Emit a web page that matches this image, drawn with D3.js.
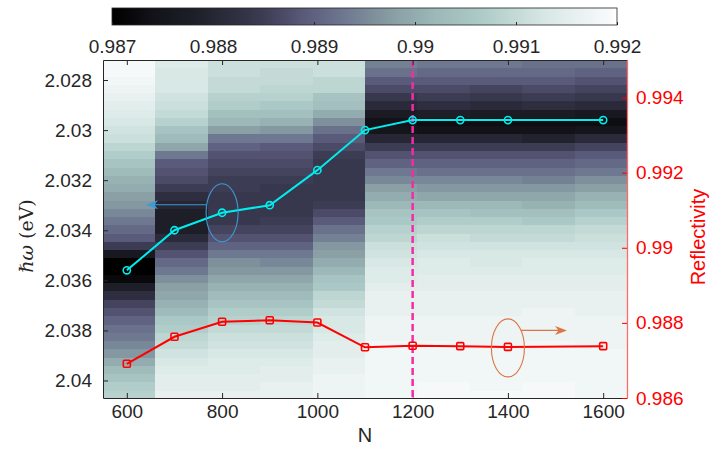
<!DOCTYPE html>
<html>
<head>
<meta charset="utf-8">
<script src="https://cdn.jsdelivr.net/npm/d3@7"></script>
<style>
body { margin: 0; background: #fff; }
text { font-family: "Liberation Sans", Arial, sans-serif; }
</style>
</head>
<body>
<div id="chart"></div>
<script>
// N values (columns of the map and points of both lines)
var nVals = [600, 700, 800, 900, 1000, 1100, 1200, 1300, 1400, 1600];
// resonance energy (left axis, cyan)
var resE = [2.0356, 2.0340, 2.0333, 2.0330, 2.0316, 2.0300, 2.0296, 2.0296, 2.0296, 2.0296];
// reflectivity at resonance (right axis, red)
var refl = [0.98691, 0.98763, 0.98803, 0.98807, 0.98801, 0.98735, 0.98739, 0.98738, 0.98736, 0.98738];

// energy grid of the map rows, top to bottom
var eStart = 2.02737, eStep = 0.00033;

// reflectivity map, one array per N, rows top (low energy) to bottom
var heat600 = [0.9919,0.9919,0.9918,0.9917,0.9916,0.9915,0.9914,0.9913,0.9912,0.9911,0.9909,0.9907,0.9905,0.9903,0.9901,0.9900,0.9898,0.9897,0.9895,0.9893,0.9891,0.9889,0.9885,0.9876,0.9870,0.9870,0.9872,0.9878,0.9882,0.9886,0.9888,0.9890,0.9892,0.9893,0.9895,0.9897,0.9900,0.9903,0.9905,0.9907,0.9908];
var heat700 = [0.9914,0.9913,0.9913,0.9913,0.9912,0.9911,0.9910,0.9908,0.9905,0.9903,0.9899,0.9893,0.9889,0.9888,0.9887,0.9885,0.9882,0.9880,0.9878,0.9878,0.9878,0.9881,0.9885,0.9888,0.9891,0.9893,0.9896,0.9898,0.9899,0.9901,0.9903,0.9906,0.9907,0.9909,0.9910,0.9912,0.9913,0.9914,0.9915,0.9915,0.9916];
var heat800 = [0.9911,0.9911,0.9910,0.9910,0.9908,0.9907,0.9904,0.9902,0.9898,0.9893,0.9890,0.9888,0.9887,0.9886,0.9885,0.9885,0.9884,0.9884,0.9884,0.9884,0.9886,0.9888,0.9890,0.9893,0.9896,0.9897,0.9899,0.9901,0.9903,0.9905,0.9907,0.9908,0.9910,0.9911,0.9912,0.9913,0.9914,0.9914,0.9915,0.9915,0.9916];
var heat900 = [0.9911,0.9910,0.9910,0.9909,0.9908,0.9906,0.9904,0.9901,0.9897,0.9893,0.9889,0.9888,0.9887,0.9886,0.9885,0.9884,0.9884,0.9884,0.9884,0.9885,0.9886,0.9888,0.9890,0.9893,0.9895,0.9897,0.9899,0.9901,0.9903,0.9905,0.9907,0.9909,0.9910,0.9911,0.9912,0.9913,0.9914,0.9915,0.9915,0.9916,0.9916];
var heat1000 = [0.9911,0.9911,0.9909,0.9909,0.9905,0.9904,0.9900,0.9896,0.9892,0.9889,0.9887,0.9885,0.9884,0.9884,0.9884,0.9884,0.9884,0.9885,0.9887,0.9889,0.9892,0.9894,0.9897,0.9898,0.9900,0.9902,0.9905,0.9906,0.9909,0.9910,0.9912,0.9913,0.9913,0.9914,0.9915,0.9915,0.9916,0.9916,0.9917,0.9917,0.9917];
var heat1100 = [0.9894,0.9892,0.9889,0.9887,0.9884,0.9881,0.9877,0.9874,0.9875,0.9880,0.9885,0.9888,0.9890,0.9893,0.9895,0.9898,0.9900,0.9902,0.9905,0.9906,0.9908,0.9909,0.9911,0.9912,0.9913,0.9914,0.9914,0.9915,0.9916,0.9916,0.9916,0.9917,0.9917,0.9917,0.9918,0.9918,0.9918,0.9918,0.9918,0.9918,0.9918];
var heat1200 = [0.9893,0.9891,0.9889,0.9887,0.9885,0.9882,0.9878,0.9873,0.9874,0.9880,0.9885,0.9888,0.9890,0.9892,0.9895,0.9897,0.9899,0.9902,0.9905,0.9907,0.9909,0.9911,0.9912,0.9913,0.9914,0.9914,0.9915,0.9915,0.9916,0.9916,0.9916,0.9917,0.9917,0.9917,0.9918,0.9918,0.9918,0.9918,0.9918,0.9919,0.9919];
var heat1300 = [0.9893,0.9891,0.9889,0.9886,0.9884,0.9881,0.9877,0.9873,0.9874,0.9880,0.9885,0.9888,0.9890,0.9892,0.9895,0.9897,0.9899,0.9902,0.9904,0.9907,0.9909,0.9910,0.9912,0.9913,0.9913,0.9914,0.9915,0.9915,0.9916,0.9916,0.9916,0.9917,0.9917,0.9917,0.9917,0.9918,0.9918,0.9918,0.9918,0.9918,0.9919];
var heat1400 = [0.9892,0.9891,0.9889,0.9887,0.9885,0.9882,0.9877,0.9873,0.9874,0.9879,0.9885,0.9888,0.9890,0.9892,0.9894,0.9897,0.9899,0.9901,0.9904,0.9906,0.9909,0.9910,0.9912,0.9913,0.9914,0.9914,0.9915,0.9915,0.9916,0.9916,0.9917,0.9917,0.9917,0.9917,0.9918,0.9918,0.9918,0.9918,0.9918,0.9919,0.9919];
var heat1600 = [0.9892,0.9890,0.9888,0.9886,0.9884,0.9881,0.9876,0.9873,0.9875,0.9881,0.9886,0.9889,0.9891,0.9893,0.9896,0.9898,0.9901,0.9903,0.9906,0.9908,0.9910,0.9911,0.9912,0.9913,0.9914,0.9914,0.9915,0.9915,0.9916,0.9916,0.9916,0.9917,0.9917,0.9917,0.9917,0.9918,0.9918,0.9918,0.9918,0.9918,0.9918];
var heatCols = [heat600, heat700, heat800, heat900, heat1000, heat1100, heat1200, heat1300, heat1400, heat1600];

// ticks
var nTicks = [600, 800, 1000, 1200, 1400, 1600];
var leftTicks = [2.028, 2.03, 2.032, 2.034, 2.036, 2.038, 2.04];
var rightTicks = [0.986, 0.988, 0.99, 0.992, 0.994];
var cbTicks = [0.987, 0.988, 0.989, 0.99, 0.991, 0.992];

// colormap: black -> dusky purple -> grey teal -> white
var cmapStops = [0.987, 0.9874, 0.9878, 0.9882, 0.9885, 0.9889, 0.9893, 0.9898, 0.9902, 0.9906, 0.9910, 0.9913, 0.9916, 0.9919, 0.992];
var cmapColors = ["#000000", "#121218", "#1e1e28", "#2e2e40", "#3c3c54", "#5a5a7a", "#6e7890", "#8aa0a5", "#9cb8b8", "#aac8c5", "#c4dad6", "#d8e8e5", "#e8f1f0", "#f6f9f9", "#ffffff"];

var W = 713, H = 450;
var plot = {left: 103, right: 627, top: 60, bottom: 398};
var axisCol = "#262626";

var color = d3.scaleLinear().domain(cmapStops).range(cmapColors).clamp(true);

var x = d3.scaleLinear().domain([550, 1650]).range([plot.left, plot.right]);
var xBand = d3.scaleBand().domain(nVals).range([plot.left, plot.right]).padding(0);
var y = d3.scaleLinear().domain([2.0272, 2.0407]).range([plot.top, plot.bottom]);
var yR = d3.scaleLinear().domain([0.986, 0.995]).range([plot.bottom, plot.top]);

var svg = d3.select("#chart").append("svg")
    .attr("width", W)
    .attr("height", H)
    .style("background", "#fff");

svg.append("clipPath").attr("id", "clip")
    .append("rect")
    .attr("x", plot.left).attr("y", plot.top)
    .attr("width", plot.right - plot.left)
    .attr("height", plot.bottom - plot.top);

// heat map cells
var cells = [];
heatCols.forEach(function (col, j) {
    col.forEach(function (v, i) {
        cells.push({n: nVals[j], e: eStart + i * eStep, v: v});
    });
});

svg.append("g")
    .attr("clip-path", "url(#clip)")
    .style("shape-rendering", "crispEdges")
    .selectAll("rect")
    .data(cells)
    .enter().append("rect")
    .attr("x", function (d) { return xBand(d.n); })
    .attr("y", function (d) { return y(d.e - eStep / 2); })
    .attr("width", xBand.bandwidth() + 0.5)
    .attr("height", function (d) { return y(d.e + eStep / 2) - y(d.e - eStep / 2) + 0.5; })
    .attr("fill", function (d) { return color(d.v); });

// dashed marker at N = 1200
svg.append("line")
    .attr("x1", x(1200)).attr("x2", x(1200))
    .attr("y1", plot.top).attr("y2", plot.bottom)
    .attr("stroke", "#f72aa6")
    .attr("stroke-width", 2.5)
    .attr("stroke-dasharray", "7,4");

// cyan line: resonance energy
var cyanLine = d3.line()
    .x(function (d, i) { return x(nVals[i]); })
    .y(function (d) { return y(d); });

svg.append("path")
    .datum(resE)
    .attr("d", cyanLine)
    .attr("fill", "none")
    .attr("stroke", "#00eeee")
    .attr("stroke-width", 2);

svg.append("g").selectAll("circle")
    .data(resE)
    .enter().append("circle")
    .attr("cx", function (d, i) { return x(nVals[i]); })
    .attr("cy", function (d) { return y(d); })
    .attr("r", 3.6)
    .attr("fill", "none")
    .attr("stroke", "#00eeee")
    .attr("stroke-width", 1.6);

// red line: reflectivity
var redLine = d3.line()
    .x(function (d, i) { return x(nVals[i]); })
    .y(function (d) { return yR(d); });

svg.append("path")
    .datum(refl)
    .attr("d", redLine)
    .attr("fill", "none")
    .attr("stroke", "#ff0000")
    .attr("stroke-width", 2);

svg.append("g").selectAll("rect")
    .data(refl)
    .enter().append("rect")
    .attr("x", function (d, i) { return x(nVals[i]) - 3.5; })
    .attr("y", function (d) { return yR(d) - 3.5; })
    .attr("width", 7).attr("height", 7)
    .attr("rx", 1)
    .attr("fill", "none")
    .attr("stroke", "#ff0000")
    .attr("stroke-width", 1.6);

// annotations: ellipse + arrow pointing to the matching axis
function arrowHead(tx, ty, dir, c) {
    // dir = -1 points left, 1 points right
    var L = 12, hw = 4.5, notch = 3.5;
    var p = [
        [tx, ty],
        [tx - dir * L, ty - hw],
        [tx - dir * (L - notch), ty],
        [tx - dir * L, ty + hw]
    ];
    svg.append("path")
        .attr("d", "M" + p.map(function (q) { return q.join(","); }).join("L") + "Z")
        .attr("fill", c);
}

var blueC = "#3e9bd4";
var cx1 = x(800), cy1 = y(2.03330);
svg.append("ellipse")
    .attr("cx", cx1).attr("cy", cy1)
    .attr("rx", 16).attr("ry", 29)
    .attr("fill", "none").attr("stroke", blueC).attr("stroke-width", 1.1);
svg.append("line")
    .attr("x1", cx1 - 16).attr("y1", cy1 - 8)
    .attr("x2", 152).attr("y2", cy1 - 8)
    .attr("stroke", blueC).attr("stroke-width", 1.2);
arrowHead(146, cy1 - 8, -1, blueC);

var orC = "#dc7644";
var cx2 = x(1400), cy2 = yR(0.98736) + 1;
svg.append("ellipse")
    .attr("cx", cx2).attr("cy", cy2)
    .attr("rx", 16.5).attr("ry", 29)
    .attr("fill", "none").attr("stroke", orC).attr("stroke-width", 1.1);
svg.append("line")
    .attr("x1", cx2 + 13).attr("y1", cy2 - 17.5)
    .attr("x2", 561).attr("y2", cy2 - 17.5)
    .attr("stroke", orC).attr("stroke-width", 1.2);
arrowHead(567, cy2 - 17.5, 1, orC);

// axes
function styleAxis(g, c) {
    g.selectAll("path").attr("stroke", c).attr("stroke-width", 1);
    g.selectAll("line").attr("stroke", c).attr("stroke-width", 1);
    g.selectAll("text").attr("fill", c)
        .style("font-family", "'Liberation Sans', Arial, sans-serif")
        .style("font-size", "19px");
}

var gTop = svg.append("g")
    .attr("transform", "translate(0," + plot.top + ")")
    .call(d3.axisTop(x).tickValues(nTicks).tickSizeInner(-5).tickSizeOuter(0).tickFormat(""));
styleAxis(gTop, axisCol);

var gBottom = svg.append("g")
    .attr("transform", "translate(0," + plot.bottom + ")")
    .call(d3.axisBottom(x).tickValues(nTicks).tickSizeInner(-5).tickSizeOuter(0).tickPadding(7).tickFormat(function (d) { return String(d); }));
styleAxis(gBottom, axisCol);
gBottom.selectAll(".tick").filter(function (d) { return d === 1200; }).select("line").attr("stroke", "#f72aa6");

var gLeft = svg.append("g")
    .attr("transform", "translate(" + plot.left + ",0)")
    .call(d3.axisLeft(y).tickValues(leftTicks).tickSizeInner(-5).tickSizeOuter(0).tickPadding(11).tickFormat(function (d) { return String(d); }));
styleAxis(gLeft, axisCol);

var gRight = svg.append("g")
    .attr("transform", "translate(" + plot.right + ",0)")
    .call(d3.axisRight(yR).tickValues(rightTicks).tickSizeInner(-5).tickSizeOuter(0).tickPadding(9).tickFormat(function (d) { return String(d); }));
styleAxis(gRight, "#ff0000");
gRight.select(".domain").attr("stroke", "#ff6a6a").attr("stroke-width", 1.3);

// axis titles
svg.append("text")
    .attr("x", x(1100)).attr("y", 442)
    .attr("text-anchor", "middle")
    .attr("fill", axisCol)
    .style("font-size", "20px")
    .text("N");

var yt = svg.append("text")
    .attr("transform", "translate(33,236) rotate(-90)")
    .attr("text-anchor", "middle")
    .attr("fill", axisCol)
    .style("font-family", "'DejaVu Serif', serif")
    .style("font-size", "19px");
yt.append("tspan").style("font-style", "italic").text("ℏω");
yt.append("tspan").text(" (eV)");

svg.append("text")
    .attr("transform", "translate(705,237) rotate(-90)")
    .attr("text-anchor", "middle")
    .attr("fill", "#ff0000")
    .style("font-size", "20px")
    .text("Reflectivity");

// colour bar
var cb = {left: 112, right: 617, top: 8, bottom: 25};
var cbX = d3.scaleLinear().domain([0.987, 0.992]).range([cb.left, cb.right]);

var grad = svg.append("defs").append("linearGradient")
    .attr("id", "cbgrad")
    .attr("x1", "0%").attr("x2", "100%").attr("y1", "0%").attr("y2", "0%");
grad.selectAll("stop")
    .data(cmapStops)
    .enter().append("stop")
    .attr("offset", function (d) { return ((d - 0.987) / 0.005 * 100) + "%"; })
    .attr("stop-color", function (d, i) { return cmapColors[i]; });

svg.append("rect")
    .attr("x", cb.left).attr("y", cb.top)
    .attr("width", cb.right - cb.left).attr("height", cb.bottom - cb.top)
    .attr("fill", "url(#cbgrad)")
    .attr("stroke", axisCol).attr("stroke-width", 0.8);

var gCb = svg.append("g")
    .attr("transform", "translate(0," + cb.bottom + ")")
    .call(d3.axisBottom(cbX).tickValues(cbTicks).tickSizeInner(-3).tickSizeOuter(0).tickPadding(15).tickFormat(function (d) { return String(d); }));
styleAxis(gCb, axisCol);
gCb.select(".domain").remove();
</script>
</body>
</html>
